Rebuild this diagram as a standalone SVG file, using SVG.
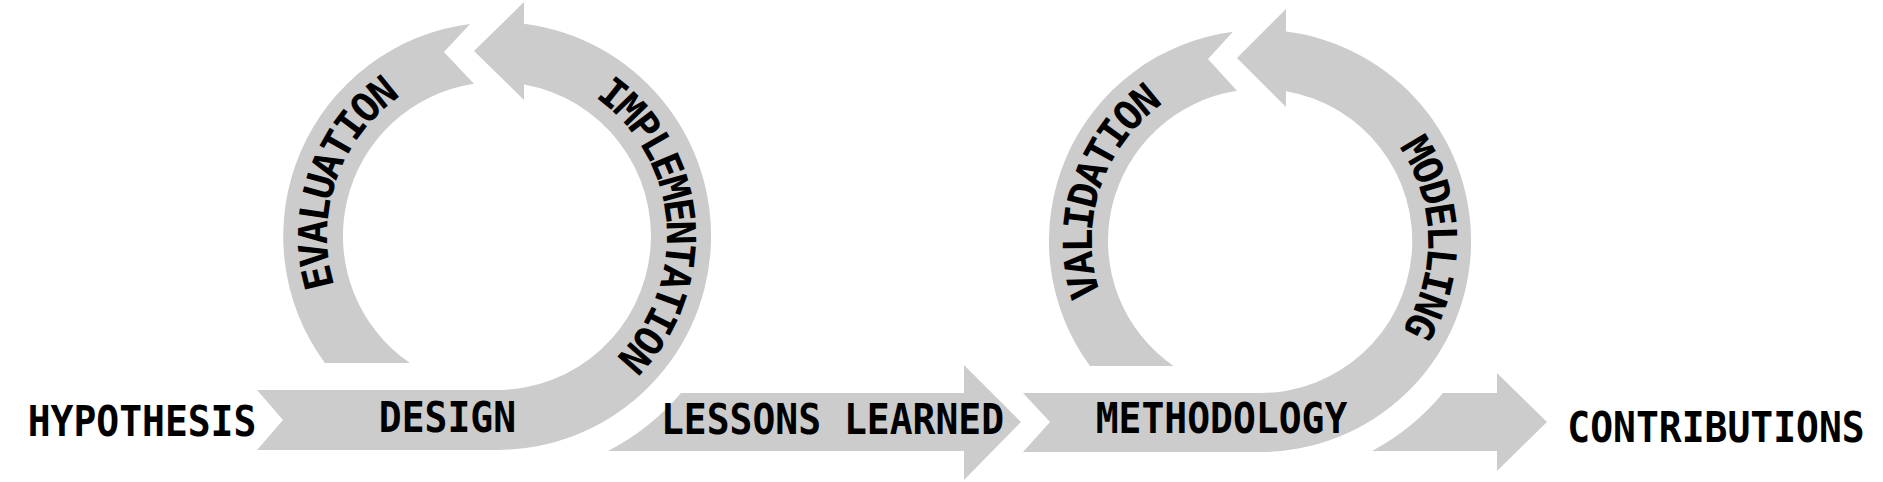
<svg xmlns="http://www.w3.org/2000/svg" width="1883" height="482" viewBox="0 0 1883 482">
  <style>
    .band { fill: #cccccc; stroke: none; }
    .lbl { font-family: 'DejaVu Sans Mono', 'Liberation Mono', monospace; font-weight: bold; font-size: 38px; fill: #000000; }
    .mid { text-anchor: middle; }
    .arc { font-size: 40px; letter-spacing: -2.8px; }
  </style>
  <defs>
    <path id="p-eval" d="M471.0,404.0 A170,170 0 1,1 578.9,87.0"/>
    <path id="p-impl" d="M453.0,71.8 A170,170 0 1,1 482.2,405.4"/>
    <path id="p-val" d="M1237.2,407.4 A168,168 0 1,1 1338.4,92.4"/>
    <path id="p-mod" d="M1226.5,76.4 A168,168 0 1,1 1235.2,407.2"/>
  </defs>

  <g id="hypothesis">
    <text class="lbl mid" x="0" y="0" transform="translate(142,436) scale(1,1.1)">HYPOTHESIS</text>
  </g>

  <g id="design-implementation">
    <path class="band" d="M257,390 L497,390 A154,154 0 0,0 524,84.4 L524,100 L474,51 L524,2 L524,23.7 A214,214 0 0,1 497,450 L257,450 L283,420 Z"/>
    <text class="lbl mid" x="0" y="0" transform="translate(447.5,432) scale(1,1.1)">DESIGN</text>
    <text class="lbl mid arc" style="letter-spacing:-3px"><textPath href="#p-impl" startOffset="50%">IMPLEMENTATION</textPath></text>
  </g>

  <g id="evaluation">
    <path class="band" d="M324.8,363 A214,214 0 0,1 470,24 L444,52 L474,83.7 A154,154 0 0,0 409.9,363 Z"/>
    <text class="lbl mid arc"><textPath href="#p-eval" startOffset="50%">EVALUATION</textPath></text>
  </g>

  <g id="lessons-learned">
    <path class="band" d="M681,393 L964,393 L964,365 L1021,422 L964,480 L964,451 L608,451 A242,242 0 0,0 681,393 Z"/>
    <text class="lbl mid" x="0" y="0" transform="translate(832.5,434) scale(1,1.1)">LESSONS LEARNED</text>
  </g>

  <g id="methodology-modelling">
    <path class="band" d="M1023,393 L1260,393 A152,152 0 0,0 1286,91.2 L1286,107 L1237,58 L1286,9 L1286,31.6 A211,211 0 0,1 1260,452 L1023,452 L1050,422 Z"/>
    <text class="lbl mid" x="0" y="0" transform="translate(1221.5,433) scale(1,1.1)">METHODOLOGY</text>
    <text class="lbl mid arc"><textPath href="#p-mod" startOffset="50%">MODELLING</textPath></text>
  </g>

  <g id="validation">
    <path class="band" d="M1090,366 A211,211 0 0,1 1233,31.7 L1208,59 L1237,90.8 A152,152 0 0,0 1173.5,366 Z"/>
    <text class="lbl mid arc"><textPath href="#p-val" startOffset="50%">VALIDATION</textPath></text>
  </g>

  <g id="connectors">
    <path class="band" d="M1443,393 L1497,393 L1497,373 L1547,422 L1497,471 L1497,451 L1372,451 A238,238 0 0,0 1443,393 Z"/>
  </g>

  <g id="contributions">
    <text class="lbl mid" x="0" y="0" transform="translate(1716,442) scale(1,1.1)">CONTRIBUTIONS</text>
  </g>
</svg>
